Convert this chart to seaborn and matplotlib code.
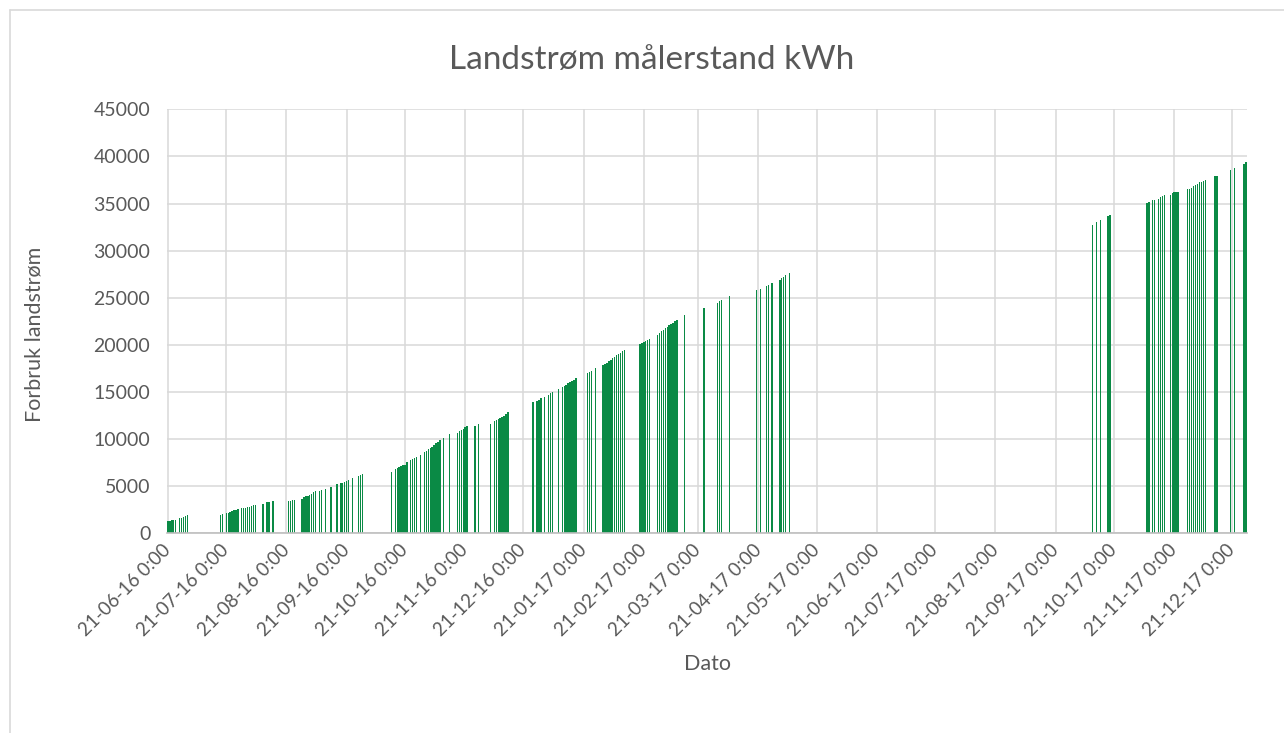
import pandas as pd
import numpy as np
import seaborn as sns
import matplotlib.pyplot as plt
import matplotlib.dates as mdates
from matplotlib.lines import Line2D


# DATA: målerstand (kWh) per avlesningsdato

dates_2016 = [
    "2016-06-21", "2016-06-22", "2016-06-23", "2016-06-24", "2016-06-25",
    "2016-06-27", "2016-06-28", "2016-06-29", "2016-06-30", "2016-07-01",
    "2016-07-18", "2016-07-19", "2016-07-21", "2016-07-22", "2016-07-23",
    "2016-07-24", "2016-07-25", "2016-07-26", "2016-07-27", "2016-07-29",
    "2016-07-30", "2016-07-31", "2016-08-01", "2016-08-02", "2016-08-03",
    "2016-08-04", "2016-08-05",
    "2016-08-09", "2016-08-11", "2016-08-12", "2016-08-14",
    "2016-08-22", "2016-08-23", "2016-08-24", "2016-08-25", "2016-08-29",
    "2016-08-30", "2016-08-31", "2016-09-01", "2016-09-02", "2016-09-03",
    "2016-09-04", "2016-09-05", "2016-09-07", "2016-09-08", "2016-09-10",
    "2016-09-13", "2016-09-16", "2016-09-18", "2016-09-19", "2016-09-20",
    "2016-09-21", "2016-09-22", "2016-09-24", "2016-09-27", "2016-09-28",
    "2016-09-29",
    "2016-10-14", "2016-10-16", "2016-10-17", "2016-10-18", "2016-10-19",
    "2016-10-20", "2016-10-21", "2016-10-22", "2016-10-24", "2016-10-25",
    "2016-10-26", "2016-10-27", "2016-10-29", "2016-10-31", "2016-11-01",
    "2016-11-02", "2016-11-03", "2016-11-04", "2016-11-05", "2016-11-06",
    "2016-11-07", "2016-11-08", "2016-11-10", "2016-11-13", "2016-11-17",
    "2016-11-18", "2016-11-19", "2016-11-20", "2016-11-21", "2016-11-22",
    "2016-11-26", "2016-11-28", "2016-12-04", "2016-12-06", "2016-12-07",
    "2016-12-08", "2016-12-09", "2016-12-10", "2016-12-11", "2016-12-12",
    "2016-12-13",
    "2016-12-26", "2016-12-28", "2016-12-29", "2016-12-30",
]
kwh_2016 = [
    1310, 1350, 1380, 1400, 1440,
    1580, 1650, 1720, 1800, 1900,
    1940, 2010, 2120, 2160, 2230,
    2370, 2440, 2470, 2580, 2650,
    2690, 2720, 2760, 2790, 2900,
    2970, 3040,
    3080, 3290, 3330, 3430,
    3470, 3480, 3490, 3500, 3610,
    3890, 3930, 4000, 4100, 4170,
    4350, 4460, 4480, 4630, 4740,
    4920, 5200, 5310, 5330, 5480,
    5550, 5660, 5840, 6090, 6190,
    6300,
    6550, 6790, 6900, 7000, 7100,
    7200, 7300, 7570, 7780, 7860,
    7960, 8070, 8320, 8600, 8780,
    8920, 9060, 9200, 9340, 9550,
    9730, 9910, 10160, 10550, 10690,
    10820, 10950, 11080, 11250, 11400,
    11420, 11610, 11650, 11890, 12030,
    12140, 12280, 12390, 12490, 12670,
    12880,
    13940, 14050, 14160, 14330,
]

dates_2017 = [
    "2017-01-01", "2017-01-03", "2017-01-04", "2017-01-05", "2017-01-08",
    "2017-01-10", "2017-01-11", "2017-01-12", "2017-01-13", "2017-01-14",
    "2017-01-15", "2017-01-16", "2017-01-17", "2017-01-23", "2017-01-24",
    "2017-01-25", "2017-01-27", "2017-01-31", "2017-02-01", "2017-02-02",
    "2017-02-03", "2017-02-04", "2017-02-05", "2017-02-06", "2017-02-07",
    "2017-02-08", "2017-02-09", "2017-02-10", "2017-02-11",
    "2017-02-19", "2017-02-20", "2017-02-21", "2017-02-22", "2017-02-23",
    "2017-02-24", "2017-02-28", "2017-03-01", "2017-03-02", "2017-03-03",
    "2017-03-04", "2017-03-05", "2017-03-06", "2017-03-07", "2017-03-08",
    "2017-03-09", "2017-03-10", "2017-03-14", "2017-03-24", "2017-03-31",
    "2017-04-01", "2017-04-02", "2017-04-06", "2017-04-20", "2017-04-22",
    "2017-04-25", "2017-04-26", "2017-04-28", "2017-05-02", "2017-05-03",
    "2017-05-04", "2017-05-05", "2017-05-07",
    "2017-10-10", "2017-10-12", "2017-10-14", "2017-10-18", "2017-10-19",
    "2017-11-07", "2017-11-08", "2017-11-10", "2017-11-11", "2017-11-13",
    "2017-11-14", "2017-11-15", "2017-11-16", "2017-11-19", "2017-11-20",
    "2017-11-21", "2017-11-22", "2017-11-23", "2017-11-28", "2017-11-29",
    "2017-11-30", "2017-12-01", "2017-12-02", "2017-12-03", "2017-12-04",
    "2017-12-05", "2017-12-06", "2017-12-07", "2017-12-12", "2017-12-13",
    "2017-12-20", "2017-12-22", "2017-12-27", "2017-12-28",
]
kwh_2017 = [
    14480, 14720, 14860, 15040, 15360,
    15570, 15640, 15790, 15930, 16070,
    16170, 16280, 16460, 16990, 17090,
    17240, 17520, 17840, 17980, 18120,
    18260, 18410, 18580, 18760, 18940,
    19040, 19180, 19360, 19470,
    20100, 20200, 20300, 20400, 20550,
    20670, 21060, 21310, 21450, 21590,
    21770, 21940, 22090, 22190, 22370,
    22480, 22650, 23180, 23890, 24420,
    24630, 24780, 25200, 25770, 25940,
    26260, 26370, 26580, 26900, 27110,
    27250, 27400, 27610,
    32740, 33060, 33270, 33700, 33800,
    35040, 35180, 35330, 35400, 35470,
    35640, 35820, 35890, 35930, 36100,
    36180, 36210, 36250, 36530, 36560,
    36670, 36810, 36950, 37060, 37240,
    37270, 37410, 37450, 37870, 37950,
    38580, 38760, 39190, 39430,
]

tick_labels = [
    "21-06-16 0:00", "21-07-16 0:00", "21-08-16 0:00", "21-09-16 0:00",
    "21-10-16 0:00", "21-11-16 0:00", "21-12-16 0:00", "21-01-17 0:00",
    "21-02-17 0:00", "21-03-17 0:00", "21-04-17 0:00", "21-05-17 0:00",
    "21-06-17 0:00", "21-07-17 0:00", "21-08-17 0:00", "21-09-17 0:00",
    "21-10-17 0:00", "21-11-17 0:00", "21-12-17 0:00",
]
y_ticks = [0, 5000, 10000, 15000, 20000, 25000, 30000, 35000, 40000, 45000]


# STIL

sns.set_theme(style="whitegrid")
plt.rcParams["font.family"] = ["Lato", "DejaVu Sans"]
text_color = "#595959"
grid_color = "#d9d9d9"
bar_color = "#0a8a45"

df = pd.DataFrame({
    "dato": pd.to_datetime(dates_2016 + dates_2017),
    "kwh": kwh_2016 + kwh_2017,
})
df["x"] = mdates.date2num(df["dato"])

fig = plt.figure(figsize=(12.84, 7.33), dpi=100)
ax = fig.add_axes([167 / 1284, 1 - 533.3 / 733, 1080 / 1284, 424 / 733])

sns.barplot(data=df, x="x", y="kwh", native_scale=True, orient="x",
            color=bar_color, saturation=1, width=0.7, errorbar=None,
            linewidth=0, ax=ax)

ax.set_xlim(df["x"].min() - 0.5, df["x"].max() + 0.5)
ax.set_ylim(0, 45000)

tick_pos = mdates.date2num(pd.to_datetime(tick_labels, format="%d-%m-%y %H:%M"))
ax.set_xticks(tick_pos)
ax.set_xticklabels(tick_labels, rotation=45, ha="right", va="center",
                   rotation_mode="anchor")
ax.set_yticks(y_ticks)
ax.set_yticklabels([str(v) for v in y_ticks])
ax.tick_params(axis="both", length=0, labelsize=14, labelcolor=text_color)
ax.tick_params(axis="x", labelsize=13.5, pad=10)
ax.tick_params(axis="y", pad=12)

ax.grid(True, color=grid_color, linewidth=1.1)
ax.set_axisbelow(True)
for side in ["top", "right", "left"]:
    ax.spines[side].set_visible(False)
ax.spines["bottom"].set_color("#bfbfbf")
ax.spines["bottom"].set_linewidth(1.2)

ax.set_xlabel("Dato", fontsize=15.5, color=text_color)
ax.set_ylabel("Forbruk landstrøm", fontsize=15.5, color=text_color)
ax.xaxis.set_label_coords(0.5, -0.285)
ax.yaxis.set_label_coords(-0.113, 0.47)

fig.text(652 / 1284, 1 - 60 / 733, "Landstrøm målerstand kWh", ha="center",
         va="center", fontsize=24, color=text_color)

# ramme rundt diagrammet
fig.add_artist(Line2D([10 / 1284, 10 / 1284], [0, 1 - 10 / 733],
                      transform=fig.transFigure, color=grid_color, linewidth=1.2))
fig.add_artist(Line2D([10 / 1284, 1], [1 - 10 / 733, 1 - 10 / 733],
                      transform=fig.transFigure, color=grid_color, linewidth=1.2))

fig.savefig("out.png", dpi=100)
